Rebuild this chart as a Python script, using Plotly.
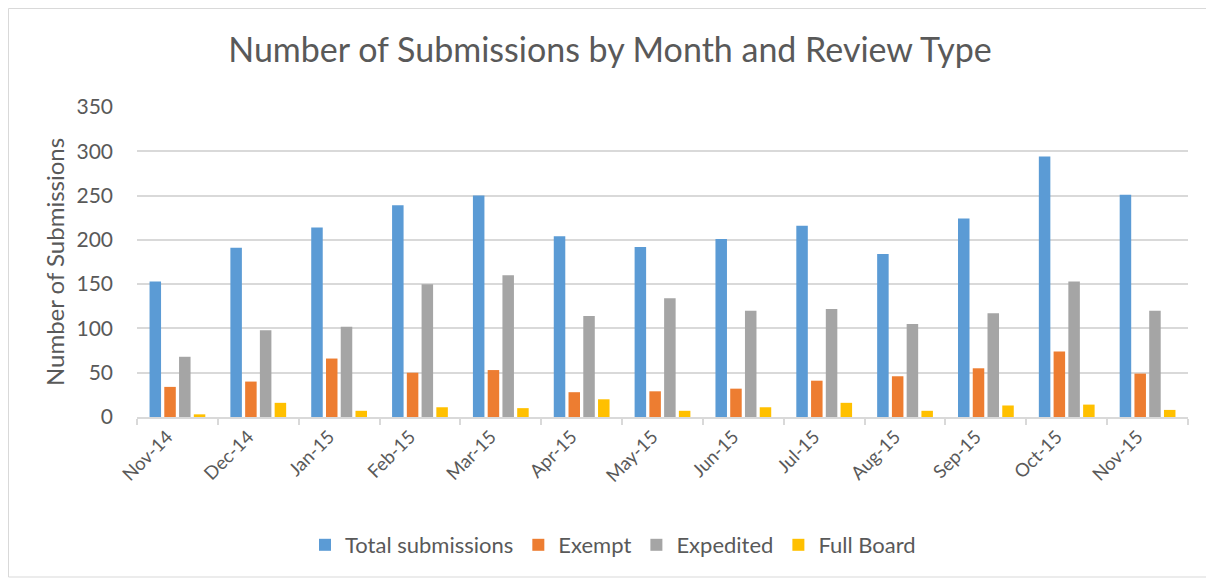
import plotly.graph_objects as go

months = ["Nov-14", "Dec-14", "Jan-15", "Feb-15", "Mar-15", "Apr-15", "May-15",
          "Jun-15", "Jul-15", "Aug-15", "Sep-15", "Oct-15", "Nov-15"]
total = [153, 191, 214, 239, 250, 204, 192, 201, 216, 184, 224, 294, 251]
exempt = [34, 40, 66, 50, 53, 28, 29, 32, 41, 46, 55, 74, 49]
expedited = [68, 98, 102, 150, 160, 114, 134, 120, 122, 105, 117, 153, 120]
full_board = [3, 16, 7, 11, 10, 20, 7, 11, 16, 7, 13, 14, 8]

series = [
    ("Total submissions", total, "#5B9BD5"),
    ("Exempt", exempt, "#ED7D31"),
    ("Expedited", expedited, "#A5A5A5"),
    ("Full Board", full_board, "#FFC000"),
]

FONT = "Lato, 'Open Sans', sans-serif"
TXT = "#595959"

fig = go.Figure()
for name, vals, col in series:
    fig.add_trace(go.Bar(x=months, y=vals, name=name, marker_color=col,
                         marker_line_width=0))

# page body has an 8px margin; figure drawn from (8,8)
OFF = 8
W, H = 1214 - OFF, 580 - OFF
L, R, T, B = 137 - OFF, 26, 107 - OFF, 163
pw, ph = W - L - R, H - T - B

fig.update_layout(
    width=W, height=H,
    margin=dict(l=L, r=R, t=T, b=B),
    paper_bgcolor="white", plot_bgcolor="white",
    barmode="group", bargap=0.27, bargroupgap=0.22,
    font=dict(family=FONT, color=TXT),
    title=dict(text="Number of Submissions by Month and Review Type",
               x=(610 - OFF) / W, xanchor="center", y=1 - (50 - OFF) / H,
               yanchor="middle",
               font=dict(size=34, color=TXT, family=FONT)),
    legend=dict(orientation="h", x=(613 - 137) / pw, xanchor="center",
                y=-128 / ph, yanchor="middle",
                font=dict(size=22, color=TXT), itemwidth=30,
                traceorder="normal"),
    showlegend=True,
)
fig.update_yaxes(range=[0, 350], dtick=50, showgrid=True, gridcolor="#D9D9D9",
                 gridwidth=1.5, zeroline=False, showline=False,
                 tickfont=dict(size=21, color=TXT), ticklabelstandoff=23,
                 title=dict(text="Number of Submissions",
                            font=dict(size=24, color=TXT), standoff=5))
fig.update_xaxes(showline=True, linecolor="#D9D9D9", linewidth=1.5,
                 ticks="outside", tickson="boundaries", ticklen=6,
                 tickcolor="#D9D9D9", tickwidth=1.5, tickangle=-45,
                 ticklabelshift=-10,
                 tickfont=dict(size=18.5, color=TXT), showgrid=False)

# outer chart border
fig.add_shape(type="rect", xref="paper", yref="paper",
              x0=(0.5 - L) / pw, x1=(W - 3 - L) / pw,
              y0=(T + ph - (H - 3)) / ph, y1=(T + ph - 0.5) / ph,
              line=dict(color="#D9D9D9", width=1), fillcolor="rgba(0,0,0,0)",
              layer="below")

fig.write_html("out.html")
